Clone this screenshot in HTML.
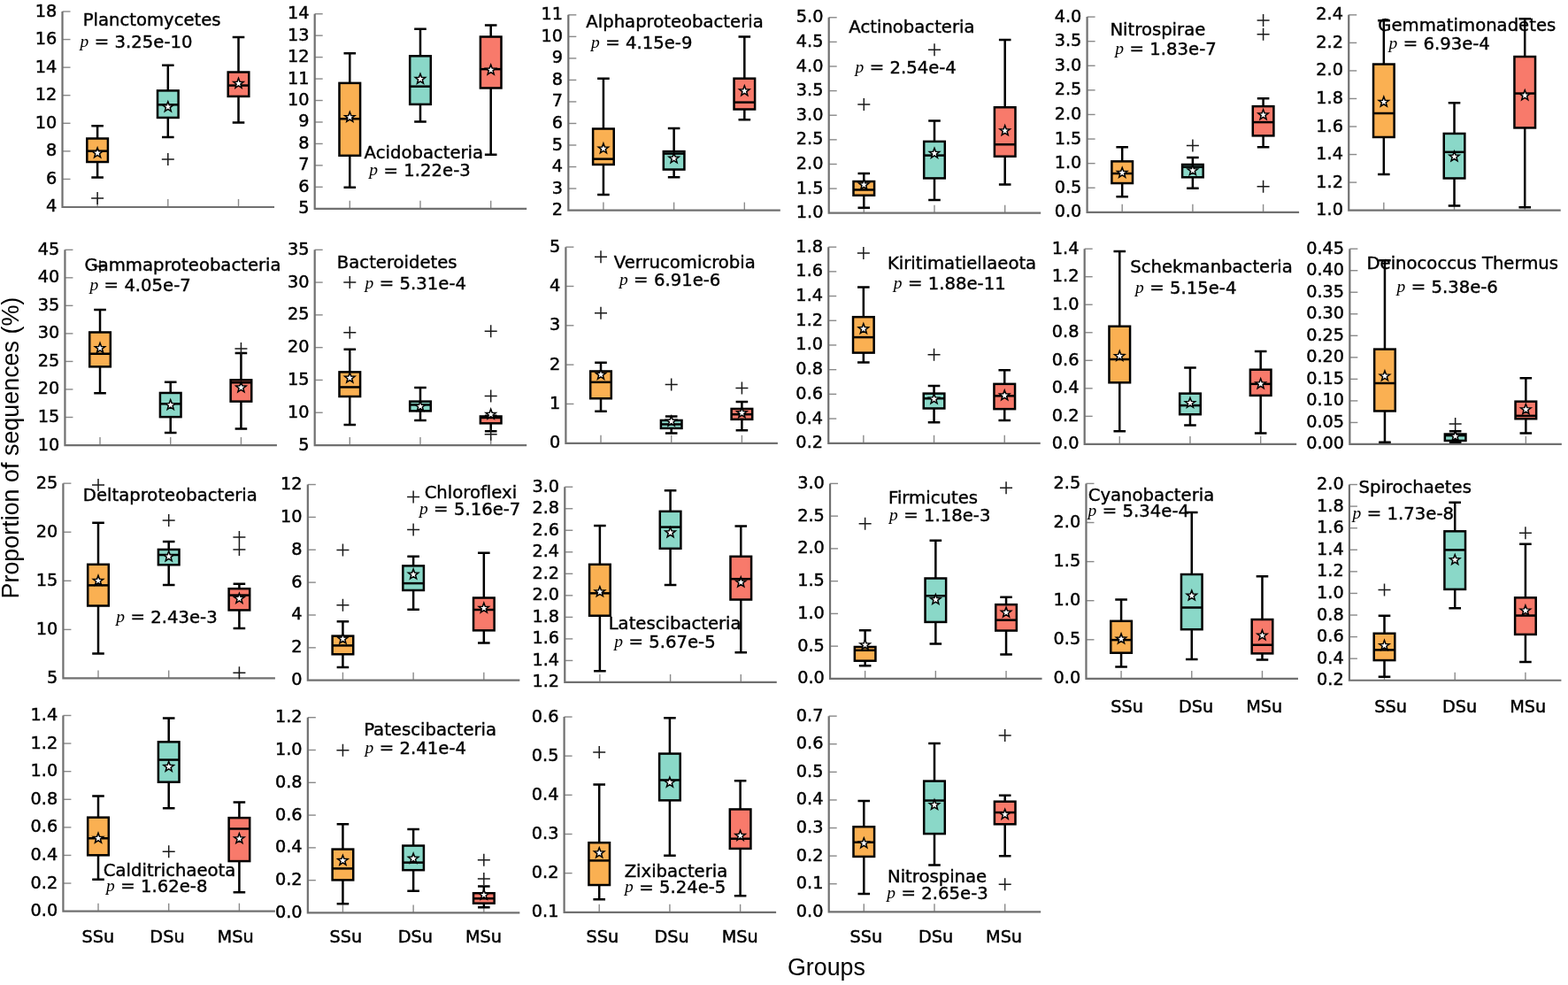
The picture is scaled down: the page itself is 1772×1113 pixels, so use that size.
<!DOCTYPE html>
<html><head><meta charset="utf-8"><title>Boxplots</title><style>
html,body{margin:0;padding:0;background:#fff;}
text{font-variant-ligatures:none;font-kerning:normal;}
svg{display:block;}
.sp{fill:none;stroke:#707070;stroke-width:2.2;}
.tk{stroke:#8a8a8a;stroke-width:1.4;}
.tl{font-family:"DejaVu Sans",sans-serif;font-size:19.3px;text-anchor:end;fill:#000;stroke:#000;stroke-width:0.45px;}
.xl{font-family:"DejaVu Sans",sans-serif;font-size:19.3px;fill:#000;stroke:#000;stroke-width:0.45px;}
.lb{font-family:"DejaVu Sans",sans-serif;font-size:19.65px;fill:#000;stroke:#000;stroke-width:0.4px;}
.pi{font-family:"Liberation Serif",serif;font-style:italic;font-size:19.5px;fill:#000;}
.gr{font-family:"Liberation Sans",sans-serif;font-size:26.8px;fill:#000;}
.yl{font-family:"Liberation Sans",sans-serif;font-size:26.9px;fill:#000;}
.wh{fill:none;stroke:#000;stroke-width:2.5;}
.bx{stroke:#000;stroke-width:2.5;}
.md{stroke:#000;stroke-width:2.5;}
.pl{fill:none;stroke:#1a1a1a;stroke-width:1.5;}
.st{fill:#fff;stroke:#000;stroke-width:1.5;stroke-linejoin:miter;}
</style></head>
<body><svg width="1772" height="1113" viewBox="0 0 1772 1113">
<rect width="1772" height="1113" fill="#fff"/>
<line x1="70.52" y1="13.02" x2="79.52" y2="13.02" class="tk"/>
<text x="64.32" y="18.52" class="tl">18</text>
<line x1="70.52" y1="44.59" x2="79.52" y2="44.59" class="tk"/>
<text x="64.32" y="50.09" class="tl">16</text>
<line x1="70.52" y1="76.16" x2="79.52" y2="76.16" class="tk"/>
<text x="64.32" y="81.66" class="tl">14</text>
<line x1="70.52" y1="107.72" x2="79.52" y2="107.72" class="tk"/>
<text x="64.32" y="113.22" class="tl">12</text>
<line x1="70.52" y1="139.29" x2="79.52" y2="139.29" class="tk"/>
<text x="64.32" y="144.79" class="tl">10</text>
<line x1="70.52" y1="170.85" x2="79.52" y2="170.85" class="tk"/>
<text x="64.32" y="176.35" class="tl">8</text>
<line x1="70.52" y1="202.42" x2="79.52" y2="202.42" class="tk"/>
<text x="64.32" y="207.92" class="tl">6</text>
<text x="64.32" y="239.48" class="tl">4</text>
<line x1="110.12" y1="233.98" x2="110.12" y2="224.98" class="tk"/>
<line x1="189.82" y1="233.98" x2="189.82" y2="224.98" class="tk"/>
<line x1="269.52" y1="233.98" x2="269.52" y2="224.98" class="tk"/>
<path d="M70.52,13.02V233.98H310.02" class="sp"/>
<path d="M110.12,156.51V142.14M103.32,142.14H116.92M110.12,183.01V200.53M103.32,200.53H116.92" class="wh"/>
<path d="M103.12,224.1H117.12M110.12,217.1V231.1" class="pl"/>
<rect x="98.32" y="156.51" width="23.6" height="26.5" fill="#FAB052" class="bx"/>
<line x1="98.32" y1="170.66" x2="121.92" y2="170.66" class="md"/>
<polygon points="110.12,166.91 111.61,170.87 115.83,171.05 112.52,173.68 113.65,177.76 110.12,175.43 106.6,177.76 107.73,173.68 104.42,171.05 108.64,170.87" class="st"/>
<path d="M189.82,102.4V73.65M183.02,73.65H196.62M189.82,132.94V154.94M183.02,154.94H196.62" class="wh"/>
<path d="M182.82,180.09H196.82M189.82,173.09V187.09" class="pl"/>
<rect x="178.02" y="102.4" width="23.6" height="30.54" fill="#8AD8C8" class="bx"/>
<line x1="178.02" y1="118.34" x2="201.62" y2="118.34" class="md"/>
<polygon points="189.82,114.81 191.31,118.77 195.53,118.96 192.22,121.59 193.35,125.66 189.82,123.33 186.3,125.66 187.43,121.59 184.12,118.96 188.34,118.77" class="st"/>
<path d="M269.52,81.51V41.99M262.72,41.99H276.32M269.52,108.91V138.55M262.72,138.55H276.32" class="wh"/>
<rect x="257.72" y="81.51" width="23.6" height="27.4" fill="#F87A6B" class="bx"/>
<line x1="257.72" y1="96.56" x2="281.32" y2="96.56" class="md"/>
<polygon points="269.52,88.31 271.01,92.27 275.23,92.46 271.92,95.09 273.05,99.17 269.52,96.83 266,99.17 267.13,95.09 263.82,92.46 268.04,92.27" class="st"/>
<text x="93.65" y="29.19" class="lb">Planctomycetes</text>
<text x="90.61" y="52.89" class="pi">p</text>
<text x="106.81" y="52.99" class="lb">=</text>
<text x="129.61" y="53.89" class="lb">3.25e-10</text>
<line x1="355.69" y1="15.72" x2="364.69" y2="15.72" class="tk"/>
<text x="349.49" y="21.22" class="tl">14</text>
<line x1="355.69" y1="40.17" x2="364.69" y2="40.17" class="tk"/>
<text x="349.49" y="45.67" class="tl">13</text>
<line x1="355.69" y1="64.62" x2="364.69" y2="64.62" class="tk"/>
<text x="349.49" y="70.12" class="tl">12</text>
<line x1="355.69" y1="89.07" x2="364.69" y2="89.07" class="tk"/>
<text x="349.49" y="94.57" class="tl">11</text>
<line x1="355.69" y1="113.52" x2="364.69" y2="113.52" class="tk"/>
<text x="349.49" y="119.02" class="tl">10</text>
<line x1="355.69" y1="137.98" x2="364.69" y2="137.98" class="tk"/>
<text x="349.49" y="143.48" class="tl">9</text>
<line x1="355.69" y1="162.43" x2="364.69" y2="162.43" class="tk"/>
<text x="349.49" y="167.93" class="tl">8</text>
<line x1="355.69" y1="186.88" x2="364.69" y2="186.88" class="tk"/>
<text x="349.49" y="192.38" class="tl">7</text>
<line x1="355.69" y1="211.33" x2="364.69" y2="211.33" class="tk"/>
<text x="349.49" y="216.83" class="tl">6</text>
<text x="349.49" y="241.28" class="tl">5</text>
<line x1="395.29" y1="235.78" x2="395.29" y2="226.78" class="tk"/>
<line x1="474.99" y1="235.78" x2="474.99" y2="226.78" class="tk"/>
<line x1="554.69" y1="235.78" x2="554.69" y2="226.78" class="tk"/>
<path d="M355.69,15.72V235.78H595.19" class="sp"/>
<path d="M395.29,93.86V60.18M388.49,60.18H402.09M395.29,175.82V211.75M388.49,211.75H402.09" class="wh"/>
<rect x="383.49" y="93.86" width="23.6" height="81.96" fill="#FAB052" class="bx"/>
<line x1="383.49" y1="134.28" x2="407.09" y2="134.28" class="md"/>
<polygon points="395.29,126.49 396.77,130.45 401,130.63 397.69,133.26 398.82,137.34 395.29,135.01 391.76,137.34 392.89,133.26 389.58,130.63 393.81,130.45" class="st"/>
<path d="M474.99,63.32V32.78M468.19,32.78H481.79M474.99,117.89V137.43M468.19,137.43H481.79" class="wh"/>
<rect x="463.19" y="63.32" width="23.6" height="54.57" fill="#8AD8C8" class="bx"/>
<line x1="463.19" y1="97.68" x2="486.79" y2="97.68" class="md"/>
<polygon points="474.99,83.37 476.47,87.33 480.7,87.52 477.39,90.15 478.52,94.23 474.99,91.89 471.46,94.23 472.59,90.15 469.28,87.52 473.51,87.33" class="st"/>
<path d="M554.69,41.54V28.52M547.89,28.52H561.49M554.69,99.48V174.7M547.89,174.7H561.49" class="wh"/>
<rect x="542.89" y="41.54" width="23.6" height="57.93" fill="#F87A6B" class="bx"/>
<line x1="542.89" y1="78.14" x2="566.49" y2="78.14" class="md"/>
<polygon points="554.69,73.04 556.17,77 560.4,77.19 557.09,79.82 558.22,83.9 554.69,81.56 551.16,83.9 552.29,79.82 548.98,77.19 553.21,77" class="st"/>
<text x="411.6" y="178.52" class="lb">Acidobacteria</text>
<text x="417.32" y="198.4" class="pi">p</text>
<text x="433.52" y="198.5" class="lb">=</text>
<text x="456.32" y="199.4" class="lb">1.22e-3</text>
<line x1="642.32" y1="16.84" x2="651.32" y2="16.84" class="tk"/>
<text x="636.12" y="22.34" class="tl">11</text>
<line x1="642.32" y1="41.37" x2="651.32" y2="41.37" class="tk"/>
<text x="636.12" y="46.87" class="tl">10</text>
<line x1="642.32" y1="65.89" x2="651.32" y2="65.89" class="tk"/>
<text x="636.12" y="71.39" class="tl">9</text>
<line x1="642.32" y1="90.42" x2="651.32" y2="90.42" class="tk"/>
<text x="636.12" y="95.92" class="tl">8</text>
<line x1="642.32" y1="114.95" x2="651.32" y2="114.95" class="tk"/>
<text x="636.12" y="120.45" class="tl">7</text>
<line x1="642.32" y1="139.47" x2="651.32" y2="139.47" class="tk"/>
<text x="636.12" y="144.97" class="tl">6</text>
<line x1="642.32" y1="164" x2="651.32" y2="164" class="tk"/>
<text x="636.12" y="169.5" class="tl">5</text>
<line x1="642.32" y1="188.52" x2="651.32" y2="188.52" class="tk"/>
<text x="636.12" y="194.02" class="tl">4</text>
<line x1="642.32" y1="213.05" x2="651.32" y2="213.05" class="tk"/>
<text x="636.12" y="218.55" class="tl">3</text>
<text x="636.12" y="243.08" class="tl">2</text>
<line x1="681.92" y1="237.58" x2="681.92" y2="228.58" class="tk"/>
<line x1="761.62" y1="237.58" x2="761.62" y2="228.58" class="tk"/>
<line x1="841.32" y1="237.58" x2="841.32" y2="228.58" class="tk"/>
<path d="M642.32,16.84V237.58H881.82" class="sp"/>
<path d="M681.92,145.51V88.7M675.12,88.7H688.72M681.92,185.93V220.06M675.12,220.06H688.72" class="wh"/>
<rect x="670.12" y="145.51" width="23.6" height="40.42" fill="#FAB052" class="bx"/>
<line x1="670.12" y1="179.64" x2="693.72" y2="179.64" class="md"/>
<polygon points="681.92,161.97 683.4,165.93 687.63,166.11 684.32,168.74 685.45,172.82 681.92,170.49 678.39,172.82 679.52,168.74 676.21,166.11 680.44,165.93" class="st"/>
<path d="M761.62,171.11V145.06M754.82,145.06H768.42M761.62,191.54V200.3M754.82,200.3H768.42" class="wh"/>
<rect x="749.82" y="171.11" width="23.6" height="20.43" fill="#8AD8C8" class="bx"/>
<line x1="749.82" y1="173.58" x2="773.42" y2="173.58" class="md"/>
<polygon points="761.62,172.97 763.1,176.93 767.33,177.11 764.02,179.75 765.15,183.82 761.62,181.49 758.09,183.82 759.22,179.75 755.91,177.11 760.14,176.93" class="st"/>
<path d="M841.32,88.7V41.54M834.52,41.54H848.12M841.32,123.5V135.18M834.52,135.18H848.12" class="wh"/>
<rect x="829.52" y="88.7" width="23.6" height="34.81" fill="#F87A6B" class="bx"/>
<line x1="829.52" y1="115.64" x2="853.12" y2="115.64" class="md"/>
<polygon points="841.32,96.85 842.8,100.81 847.03,100.99 843.72,103.62 844.85,107.7 841.32,105.37 837.79,107.7 838.92,103.62 835.61,100.99 839.84,100.81" class="st"/>
<text x="662.31" y="30.99" class="lb">Alphaproteobacteria</text>
<text x="668.02" y="54.02" class="pi">p</text>
<text x="684.22" y="54.12" class="lb">=</text>
<text x="707.02" y="55.02" class="lb">4.15e-9</text>
<line x1="936.69" y1="19.76" x2="945.69" y2="19.76" class="tk"/>
<text x="930.49" y="25.26" class="tl">5.0</text>
<line x1="936.69" y1="47.38" x2="945.69" y2="47.38" class="tk"/>
<text x="930.49" y="52.88" class="tl">4.5</text>
<line x1="936.69" y1="75" x2="945.69" y2="75" class="tk"/>
<text x="930.49" y="80.5" class="tl">4.0</text>
<line x1="936.69" y1="102.62" x2="945.69" y2="102.62" class="tk"/>
<text x="930.49" y="108.12" class="tl">3.5</text>
<line x1="936.69" y1="130.24" x2="945.69" y2="130.24" class="tk"/>
<text x="930.49" y="135.74" class="tl">3.0</text>
<line x1="936.69" y1="157.86" x2="945.69" y2="157.86" class="tk"/>
<text x="930.49" y="163.36" class="tl">2.5</text>
<line x1="936.69" y1="185.48" x2="945.69" y2="185.48" class="tk"/>
<text x="930.49" y="190.98" class="tl">2.0</text>
<line x1="936.69" y1="213.1" x2="945.69" y2="213.1" class="tk"/>
<text x="930.49" y="218.6" class="tl">1.5</text>
<text x="930.49" y="246.22" class="tl">1.0</text>
<line x1="976.29" y1="240.72" x2="976.29" y2="231.72" class="tk"/>
<line x1="1055.99" y1="240.72" x2="1055.99" y2="231.72" class="tk"/>
<line x1="1135.69" y1="240.72" x2="1135.69" y2="231.72" class="tk"/>
<path d="M936.69,19.76V240.72H1176.19" class="sp"/>
<path d="M976.29,205.02V196.03M969.49,196.03H983.09M976.29,220.74V234.66M969.49,234.66H983.09" class="wh"/>
<path d="M969.29,117.89H983.29M976.29,110.89V124.89" class="pl"/>
<rect x="964.49" y="205.02" width="23.6" height="15.72" fill="#FAB052" class="bx"/>
<line x1="964.49" y1="214.45" x2="988.09" y2="214.45" class="md"/>
<polygon points="976.29,202.83 977.77,206.8 982,206.98 978.69,209.61 979.82,213.69 976.29,211.35 972.77,213.69 973.9,209.61 970.59,206.98 974.81,206.8" class="st"/>
<path d="M1055.99,159.88V136.53M1049.19,136.53H1062.79M1055.99,201.42V226.12M1049.19,226.12H1062.79" class="wh"/>
<path d="M1048.99,56.14H1062.99M1055.99,49.14V63.14" class="pl"/>
<rect x="1044.19" y="159.88" width="23.6" height="41.54" fill="#8AD8C8" class="bx"/>
<line x1="1044.19" y1="175.6" x2="1067.79" y2="175.6" class="md"/>
<polygon points="1055.99,167.35 1057.47,171.32 1061.7,171.5 1058.39,174.13 1059.52,178.21 1055.99,175.87 1052.47,178.21 1053.6,174.13 1050.29,171.5 1054.51,171.32" class="st"/>
<path d="M1135.69,121.26V44.91M1128.89,44.91H1142.49M1135.69,176.72V208.38M1128.89,208.38H1142.49" class="wh"/>
<rect x="1123.89" y="121.26" width="23.6" height="55.46" fill="#F87A6B" class="bx"/>
<line x1="1123.89" y1="163.25" x2="1147.49" y2="163.25" class="md"/>
<polygon points="1135.69,141.76 1137.17,145.72 1141.4,145.9 1138.09,148.53 1139.22,152.61 1135.69,150.28 1132.17,152.61 1133.3,148.53 1129.99,145.9 1134.21,145.72" class="st"/>
<text x="959.37" y="36.6" class="lb">Actinobacteria</text>
<text x="966.43" y="82.08" class="pi">p</text>
<text x="982.63" y="82.18" class="lb">=</text>
<text x="1005.43" y="83.08" class="lb">2.54e-4</text>
<line x1="1228.59" y1="19.09" x2="1237.59" y2="19.09" class="tk"/>
<text x="1222.39" y="24.59" class="tl">4.0</text>
<line x1="1228.59" y1="46.68" x2="1237.59" y2="46.68" class="tk"/>
<text x="1222.39" y="52.18" class="tl">3.5</text>
<line x1="1228.59" y1="74.27" x2="1237.59" y2="74.27" class="tk"/>
<text x="1222.39" y="79.77" class="tl">3.0</text>
<line x1="1228.59" y1="101.86" x2="1237.59" y2="101.86" class="tk"/>
<text x="1222.39" y="107.36" class="tl">2.5</text>
<line x1="1228.59" y1="129.45" x2="1237.59" y2="129.45" class="tk"/>
<text x="1222.39" y="134.95" class="tl">2.0</text>
<line x1="1228.59" y1="157.05" x2="1237.59" y2="157.05" class="tk"/>
<text x="1222.39" y="162.55" class="tl">1.5</text>
<line x1="1228.59" y1="184.64" x2="1237.59" y2="184.64" class="tk"/>
<text x="1222.39" y="190.14" class="tl">1.0</text>
<line x1="1228.59" y1="212.23" x2="1237.59" y2="212.23" class="tk"/>
<text x="1222.39" y="217.73" class="tl">0.5</text>
<text x="1222.39" y="245.32" class="tl">0.0</text>
<line x1="1268.19" y1="239.82" x2="1268.19" y2="230.82" class="tk"/>
<line x1="1347.89" y1="239.82" x2="1347.89" y2="230.82" class="tk"/>
<line x1="1427.59" y1="239.82" x2="1427.59" y2="230.82" class="tk"/>
<path d="M1228.59,19.09V239.82H1468.09" class="sp"/>
<path d="M1268.19,182.34V166.17M1261.39,166.17H1274.99M1268.19,207.04V222.31M1261.39,222.31H1274.99" class="wh"/>
<rect x="1256.39" y="182.34" width="23.6" height="24.7" fill="#FAB052" class="bx"/>
<line x1="1256.39" y1="196.03" x2="1279.99" y2="196.03" class="md"/>
<polygon points="1268.19,189.36 1269.67,193.32 1273.9,193.51 1270.59,196.14 1271.72,200.21 1268.19,197.88 1264.67,200.21 1265.8,196.14 1262.49,193.51 1266.71,193.32" class="st"/>
<path d="M1347.89,185.93V178.07M1341.09,178.07H1354.69M1347.89,200.3V212.65M1341.09,212.65H1354.69" class="wh"/>
<path d="M1340.89,164.6H1354.89M1347.89,157.6V171.6" class="pl"/>
<rect x="1336.09" y="185.93" width="23.6" height="14.37" fill="#8AD8C8" class="bx"/>
<line x1="1336.09" y1="188.62" x2="1359.69" y2="188.62" class="md"/>
<polygon points="1347.89,186.67 1349.37,190.63 1353.6,190.81 1350.29,193.44 1351.42,197.52 1347.89,195.19 1344.37,197.52 1345.5,193.44 1342.19,190.81 1346.41,190.63" class="st"/>
<path d="M1427.59,120.14V111.15M1420.79,111.15H1434.39M1427.59,153.37V166.17M1420.79,166.17H1434.39" class="wh"/>
<path d="M1420.59,22.9H1434.59M1427.59,15.9V29.9" class="pl"/>
<path d="M1420.59,38.85H1434.59M1427.59,31.85V45.85" class="pl"/>
<path d="M1420.59,210.63H1434.59M1427.59,203.63V217.63" class="pl"/>
<rect x="1415.79" y="120.14" width="23.6" height="33.23" fill="#F87A6B" class="bx"/>
<line x1="1415.79" y1="138.1" x2="1439.39" y2="138.1" class="md"/>
<polygon points="1427.59,123.79 1429.07,127.75 1433.3,127.94 1429.99,130.57 1431.12,134.65 1427.59,132.31 1424.07,134.65 1425.2,130.57 1421.89,127.94 1426.11,127.75" class="st"/>
<text x="1254.42" y="40.42" class="lb">Nitrospirae</text>
<text x="1260.36" y="60.75" class="pi">p</text>
<text x="1276.56" y="60.85" class="lb">=</text>
<text x="1299.36" y="61.75" class="lb">1.83e-7</text>
<line x1="1524.23" y1="16.85" x2="1533.23" y2="16.85" class="tk"/>
<text x="1518.03" y="22.35" class="tl">2.4</text>
<line x1="1524.23" y1="48.39" x2="1533.23" y2="48.39" class="tk"/>
<text x="1518.03" y="53.89" class="tl">2.2</text>
<line x1="1524.23" y1="79.93" x2="1533.23" y2="79.93" class="tk"/>
<text x="1518.03" y="85.43" class="tl">2.0</text>
<line x1="1524.23" y1="111.47" x2="1533.23" y2="111.47" class="tk"/>
<text x="1518.03" y="116.97" class="tl">1.8</text>
<line x1="1524.23" y1="143.02" x2="1533.23" y2="143.02" class="tk"/>
<text x="1518.03" y="148.52" class="tl">1.6</text>
<line x1="1524.23" y1="174.56" x2="1533.23" y2="174.56" class="tk"/>
<text x="1518.03" y="180.06" class="tl">1.4</text>
<line x1="1524.23" y1="206.1" x2="1533.23" y2="206.1" class="tk"/>
<text x="1518.03" y="211.6" class="tl">1.2</text>
<text x="1518.03" y="243.15" class="tl">1.0</text>
<line x1="1563.83" y1="237.65" x2="1563.83" y2="228.65" class="tk"/>
<line x1="1643.53" y1="237.65" x2="1643.53" y2="228.65" class="tk"/>
<line x1="1723.23" y1="237.65" x2="1723.23" y2="228.65" class="tk"/>
<path d="M1524.23,16.85V237.65H1763.73" class="sp"/>
<path d="M1563.83,72.55V23.14M1557.03,23.14H1570.63M1563.83,154.99V196.99M1557.03,196.99H1570.63" class="wh"/>
<rect x="1552.03" y="72.55" width="23.6" height="82.43" fill="#FAB052" class="bx"/>
<line x1="1552.03" y1="128.03" x2="1575.63" y2="128.03" class="md"/>
<polygon points="1563.83,109.23 1565.31,113.19 1569.54,113.38 1566.23,116.01 1567.36,120.08 1563.83,117.75 1560.31,120.08 1561.44,116.01 1558.13,113.38 1562.35,113.19" class="st"/>
<path d="M1643.53,150.94V116.35M1636.73,116.35H1650.33M1643.53,201.48V232.48M1636.73,232.48H1650.33" class="wh"/>
<rect x="1631.73" y="150.94" width="23.6" height="50.54" fill="#8AD8C8" class="bx"/>
<line x1="1631.73" y1="171.83" x2="1655.33" y2="171.83" class="md"/>
<polygon points="1643.53,171 1645.01,174.96 1649.24,175.14 1645.93,177.78 1647.06,181.85 1643.53,179.52 1640.01,181.85 1641.14,177.78 1637.83,175.14 1642.05,174.96" class="st"/>
<path d="M1723.23,64.02V21.34M1716.43,21.34H1730.03M1723.23,144.43V234.28M1716.43,234.28H1730.03" class="wh"/>
<rect x="1711.43" y="64.02" width="23.6" height="80.41" fill="#F87A6B" class="bx"/>
<line x1="1711.43" y1="105.57" x2="1735.03" y2="105.57" class="md"/>
<polygon points="1723.23,101.82 1724.71,105.78 1728.94,105.96 1725.63,108.6 1726.76,112.67 1723.23,110.34 1719.71,112.67 1720.84,108.6 1717.53,105.96 1721.75,105.78" class="st"/>
<text x="1557.25" y="35.49" class="lb">Gemmatimonadetes</text>
<text x="1569.48" y="55.15" class="pi">p</text>
<text x="1585.68" y="55.25" class="lb">=</text>
<text x="1608.48" y="56.15" class="lb">6.93e-4</text>
<line x1="73.43" y1="282.29" x2="82.43" y2="282.29" class="tk"/>
<text x="67.23" y="287.79" class="tl">45</text>
<line x1="73.43" y1="313.82" x2="82.43" y2="313.82" class="tk"/>
<text x="67.23" y="319.32" class="tl">40</text>
<line x1="73.43" y1="345.36" x2="82.43" y2="345.36" class="tk"/>
<text x="67.23" y="350.86" class="tl">35</text>
<line x1="73.43" y1="376.89" x2="82.43" y2="376.89" class="tk"/>
<text x="67.23" y="382.39" class="tl">30</text>
<line x1="73.43" y1="408.42" x2="82.43" y2="408.42" class="tk"/>
<text x="67.23" y="413.92" class="tl">25</text>
<line x1="73.43" y1="439.96" x2="82.43" y2="439.96" class="tk"/>
<text x="67.23" y="445.46" class="tl">20</text>
<line x1="73.43" y1="471.49" x2="82.43" y2="471.49" class="tk"/>
<text x="67.23" y="476.99" class="tl">15</text>
<text x="67.23" y="508.53" class="tl">10</text>
<line x1="113.03" y1="503.03" x2="113.03" y2="494.03" class="tk"/>
<line x1="192.73" y1="503.03" x2="192.73" y2="494.03" class="tk"/>
<line x1="272.43" y1="503.03" x2="272.43" y2="494.03" class="tk"/>
<path d="M73.43,282.29V503.03H312.93" class="sp"/>
<path d="M113.03,375.48V349.88M106.23,349.88H119.83M113.03,414.33V444.19M106.23,444.19H119.83" class="wh"/>
<path d="M106.03,300.93H120.03M113.03,293.93V307.93" class="pl"/>
<rect x="101.23" y="375.48" width="23.6" height="38.85" fill="#FAB052" class="bx"/>
<line x1="101.23" y1="399.73" x2="124.83" y2="399.73" class="md"/>
<polygon points="113.03,387.44 114.51,391.41 118.74,391.59 115.43,394.22 116.56,398.3 113.03,395.96 109.5,398.3 110.63,394.22 107.32,391.59 111.55,391.41" class="st"/>
<path d="M192.73,443.97V431.84M185.93,431.84H199.53M192.73,471.14V488.88M185.93,488.88H199.53" class="wh"/>
<rect x="180.93" y="443.97" width="23.6" height="27.17" fill="#8AD8C8" class="bx"/>
<line x1="180.93" y1="456.32" x2="204.53" y2="456.32" class="md"/>
<polygon points="192.73,451.67 194.21,455.63 198.44,455.81 195.13,458.44 196.26,462.52 192.73,460.19 189.2,462.52 190.33,458.44 187.02,455.81 191.25,455.63" class="st"/>
<path d="M272.43,429.37V399.06M265.63,399.06H279.23M272.43,453.62V484.61M265.63,484.61H279.23" class="wh"/>
<path d="M265.43,394.12H279.43M272.43,387.12V401.12" class="pl"/>
<rect x="260.63" y="429.37" width="23.6" height="24.25" fill="#F87A6B" class="bx"/>
<line x1="260.63" y1="432.29" x2="284.23" y2="432.29" class="md"/>
<polygon points="272.43,431.91 273.91,435.87 278.14,436.05 274.83,438.68 275.96,442.76 272.43,440.43 268.9,442.76 270.03,438.68 266.72,436.05 270.95,435.87" class="st"/>
<text x="95.43" y="306.09" class="lb">Gammaproteobacteria</text>
<text x="101.38" y="328" class="pi">p</text>
<text x="117.58" y="328.1" class="lb">=</text>
<text x="140.38" y="329" class="lb">4.05e-7</text>
<line x1="355.69" y1="282.29" x2="364.69" y2="282.29" class="tk"/>
<text x="349.49" y="287.79" class="tl">35</text>
<line x1="355.69" y1="319.08" x2="364.69" y2="319.08" class="tk"/>
<text x="349.49" y="324.58" class="tl">30</text>
<line x1="355.69" y1="355.87" x2="364.69" y2="355.87" class="tk"/>
<text x="349.49" y="361.37" class="tl">25</text>
<line x1="355.69" y1="392.66" x2="364.69" y2="392.66" class="tk"/>
<text x="349.49" y="398.16" class="tl">20</text>
<line x1="355.69" y1="429.45" x2="364.69" y2="429.45" class="tk"/>
<text x="349.49" y="434.95" class="tl">15</text>
<line x1="355.69" y1="466.24" x2="364.69" y2="466.24" class="tk"/>
<text x="349.49" y="471.74" class="tl">10</text>
<text x="349.49" y="508.53" class="tl">5</text>
<line x1="395.29" y1="503.03" x2="395.29" y2="494.03" class="tk"/>
<line x1="474.99" y1="503.03" x2="474.99" y2="494.03" class="tk"/>
<line x1="554.69" y1="503.03" x2="554.69" y2="494.03" class="tk"/>
<path d="M355.69,282.29V503.03H595.19" class="sp"/>
<path d="M395.29,420.39V394.79M388.49,394.79H402.09M395.29,448.01V479.9M388.49,479.9H402.09" class="wh"/>
<path d="M388.29,318.89H402.29M395.29,311.89V325.89" class="pl"/>
<path d="M388.29,375.7H402.29M395.29,368.7V382.7" class="pl"/>
<rect x="383.49" y="420.39" width="23.6" height="27.62" fill="#FAB052" class="bx"/>
<line x1="383.49" y1="437.46" x2="407.09" y2="437.46" class="md"/>
<polygon points="395.29,421.13 396.77,425.09 401,425.27 397.69,427.91 398.82,431.98 395.29,429.65 391.76,431.98 392.89,427.91 389.58,425.27 393.81,425.09" class="st"/>
<path d="M474.99,453.62V437.91M468.19,437.91H481.79M474.99,464.4V474.96M468.19,474.96H481.79" class="wh"/>
<rect x="463.19" y="453.62" width="23.6" height="10.78" fill="#8AD8C8" class="bx"/>
<line x1="463.19" y1="457.44" x2="486.79" y2="457.44" class="md"/>
<polygon points="474.99,453.24 476.47,457.2 480.7,457.38 477.39,460.02 478.52,464.09 474.99,461.76 471.46,464.09 472.59,460.02 469.28,457.38 473.51,457.2" class="st"/>
<path d="M554.69,470.47V469.79M547.89,469.79H561.49M554.69,478.32V487.31M547.89,487.31H561.49" class="wh"/>
<path d="M547.69,374.36H561.69M554.69,367.36V381.36" class="pl"/>
<path d="M547.69,447.56H561.69M554.69,440.56V454.56" class="pl"/>
<path d="M547.69,490.68H561.69M554.69,483.68V497.68" class="pl"/>
<rect x="542.89" y="470.47" width="23.6" height="7.86" fill="#F87A6B" class="bx"/>
<line x1="542.89" y1="472.04" x2="566.49" y2="472.04" class="md"/>
<polygon points="554.69,462.22 556.17,466.18 560.4,466.37 557.09,469 558.22,473.07 554.69,470.74 551.16,473.07 552.29,469 548.98,466.37 553.21,466.18" class="st"/>
<text x="380.84" y="303.17" class="lb">Bacteroidetes</text>
<text x="412.6" y="325.75" class="pi">p</text>
<text x="428.8" y="325.85" class="lb">=</text>
<text x="451.6" y="326.75" class="lb">5.31e-4</text>
<line x1="639.4" y1="279.15" x2="648.4" y2="279.15" class="tk"/>
<text x="633.2" y="284.65" class="tl">5</text>
<line x1="639.4" y1="323.47" x2="648.4" y2="323.47" class="tk"/>
<text x="633.2" y="328.97" class="tl">4</text>
<line x1="639.4" y1="367.8" x2="648.4" y2="367.8" class="tk"/>
<text x="633.2" y="373.3" class="tl">3</text>
<line x1="639.4" y1="412.13" x2="648.4" y2="412.13" class="tk"/>
<text x="633.2" y="417.63" class="tl">2</text>
<line x1="639.4" y1="456.45" x2="648.4" y2="456.45" class="tk"/>
<text x="633.2" y="461.95" class="tl">1</text>
<text x="633.2" y="506.28" class="tl">0</text>
<line x1="679" y1="500.78" x2="679" y2="491.78" class="tk"/>
<line x1="758.7" y1="500.78" x2="758.7" y2="491.78" class="tk"/>
<line x1="838.4" y1="500.78" x2="838.4" y2="491.78" class="tk"/>
<path d="M639.4,279.15V500.78H878.9" class="sp"/>
<path d="M679,419.49V409.84M672.2,409.84H685.8M679,450.26V464.85M672.2,464.85H685.8" class="wh"/>
<path d="M672,290.15H686M679,283.15V297.15" class="pl"/>
<path d="M672,353.7H686M679,346.7V360.7" class="pl"/>
<rect x="667.2" y="419.49" width="23.6" height="30.76" fill="#FAB052" class="bx"/>
<line x1="667.2" y1="431.84" x2="690.8" y2="431.84" class="md"/>
<polygon points="679,417.31 680.48,421.27 684.71,421.46 681.4,424.09 682.53,428.16 679,425.83 675.47,428.16 676.6,424.09 673.3,421.46 677.52,421.27" class="st"/>
<path d="M758.7,474.96V470.47M751.9,470.47H765.5M758.7,483.94V489.55M751.9,489.55H765.5" class="wh"/>
<path d="M751.7,434.54H765.7M758.7,427.54V441.54" class="pl"/>
<rect x="746.9" y="474.96" width="23.6" height="8.98" fill="#8AD8C8" class="bx"/>
<line x1="746.9" y1="479.45" x2="770.5" y2="479.45" class="md"/>
<polygon points="758.7,470.08 760.18,474.04 764.41,474.23 761.1,476.86 762.23,480.93 758.7,478.6 755.17,480.93 756.3,476.86 753,474.23 757.22,474.04" class="st"/>
<path d="M838.4,461.93V454.07M831.6,454.07H845.2M838.4,473.83V486.18M831.6,486.18H845.2" class="wh"/>
<path d="M831.4,438.58H845.4M838.4,431.58V445.58" class="pl"/>
<rect x="826.6" y="461.93" width="23.6" height="11.9" fill="#F87A6B" class="bx"/>
<line x1="826.6" y1="468.22" x2="850.2" y2="468.22" class="md"/>
<polygon points="838.4,460.65 839.88,464.61 844.11,464.79 840.8,467.43 841.93,471.5 838.4,469.17 834.87,471.5 836,467.43 832.7,464.79 836.92,464.61" class="st"/>
<text x="693.74" y="302.72" class="lb">Verrucomicrobia</text>
<text x="699.91" y="322.38" class="pi">p</text>
<text x="716.11" y="322.48" class="lb">=</text>
<text x="738.91" y="323.38" class="lb">6.91e-6</text>
<line x1="936.24" y1="279.15" x2="945.24" y2="279.15" class="tk"/>
<text x="930.04" y="284.65" class="tl">1.8</text>
<line x1="936.24" y1="306.85" x2="945.24" y2="306.85" class="tk"/>
<text x="930.04" y="312.35" class="tl">1.6</text>
<line x1="936.24" y1="334.56" x2="945.24" y2="334.56" class="tk"/>
<text x="930.04" y="340.06" class="tl">1.4</text>
<line x1="936.24" y1="362.26" x2="945.24" y2="362.26" class="tk"/>
<text x="930.04" y="367.76" class="tl">1.2</text>
<line x1="936.24" y1="389.96" x2="945.24" y2="389.96" class="tk"/>
<text x="930.04" y="395.46" class="tl">1.0</text>
<line x1="936.24" y1="417.67" x2="945.24" y2="417.67" class="tk"/>
<text x="930.04" y="423.17" class="tl">0.8</text>
<line x1="936.24" y1="445.37" x2="945.24" y2="445.37" class="tk"/>
<text x="930.04" y="450.87" class="tl">0.6</text>
<line x1="936.24" y1="473.08" x2="945.24" y2="473.08" class="tk"/>
<text x="930.04" y="478.58" class="tl">0.4</text>
<text x="930.04" y="506.28" class="tl">0.2</text>
<line x1="975.84" y1="500.78" x2="975.84" y2="491.78" class="tk"/>
<line x1="1055.54" y1="500.78" x2="1055.54" y2="491.78" class="tk"/>
<line x1="1135.24" y1="500.78" x2="1135.24" y2="491.78" class="tk"/>
<path d="M936.24,279.15V500.78H1175.74" class="sp"/>
<path d="M975.84,358.19V324.51M969.04,324.51H982.64M975.84,398.61V409.39M969.04,409.39H982.64" class="wh"/>
<path d="M968.84,285.88H982.84M975.84,278.88V292.88" class="pl"/>
<rect x="964.04" y="358.19" width="23.6" height="40.42" fill="#FAB052" class="bx"/>
<line x1="964.04" y1="381.09" x2="987.64" y2="381.09" class="md"/>
<polygon points="975.84,365.66 977.32,369.62 981.55,369.81 978.24,372.44 979.37,376.52 975.84,374.18 972.32,376.52 973.45,372.44 970.14,369.81 974.36,369.62" class="st"/>
<path d="M1055.54,444.64V436.11M1048.74,436.11H1062.34M1055.54,461.48V477.2M1048.74,477.2H1062.34" class="wh"/>
<path d="M1048.54,400.85H1062.54M1055.54,393.85V407.85" class="pl"/>
<rect x="1043.74" y="444.64" width="23.6" height="16.84" fill="#8AD8C8" class="bx"/>
<line x1="1043.74" y1="450.26" x2="1067.34" y2="450.26" class="md"/>
<polygon points="1055.54,444.93 1057.02,448.89 1061.25,449.08 1057.94,451.71 1059.07,455.78 1055.54,453.45 1052.02,455.78 1053.15,451.71 1049.84,449.08 1054.06,448.89" class="st"/>
<path d="M1135.24,433.86V418.37M1128.44,418.37H1142.04M1135.24,462.16V474.96M1128.44,474.96H1142.04" class="wh"/>
<rect x="1123.44" y="433.86" width="23.6" height="28.29" fill="#F87A6B" class="bx"/>
<line x1="1123.44" y1="447.34" x2="1147.04" y2="447.34" class="md"/>
<polygon points="1135.24,440.89 1136.72,444.85 1140.95,445.03 1137.64,447.67 1138.77,451.74 1135.24,449.41 1131.72,451.74 1132.85,447.67 1129.54,445.03 1133.76,444.85" class="st"/>
<text x="1002.94" y="304.3" class="lb">Kiritimatiellaeota</text>
<text x="1009.77" y="325.75" class="pi">p</text>
<text x="1025.97" y="325.85" class="lb">=</text>
<text x="1048.77" y="326.75" class="lb">1.88e-11</text>
<line x1="1225.67" y1="281.17" x2="1234.67" y2="281.17" class="tk"/>
<text x="1219.47" y="286.67" class="tl">1.4</text>
<line x1="1225.67" y1="312.7" x2="1234.67" y2="312.7" class="tk"/>
<text x="1219.47" y="318.2" class="tl">1.2</text>
<line x1="1225.67" y1="344.23" x2="1234.67" y2="344.23" class="tk"/>
<text x="1219.47" y="349.73" class="tl">1.0</text>
<line x1="1225.67" y1="375.77" x2="1234.67" y2="375.77" class="tk"/>
<text x="1219.47" y="381.27" class="tl">0.8</text>
<line x1="1225.67" y1="407.3" x2="1234.67" y2="407.3" class="tk"/>
<text x="1219.47" y="412.8" class="tl">0.6</text>
<line x1="1225.67" y1="438.84" x2="1234.67" y2="438.84" class="tk"/>
<text x="1219.47" y="444.34" class="tl">0.4</text>
<line x1="1225.67" y1="470.37" x2="1234.67" y2="470.37" class="tk"/>
<text x="1219.47" y="475.87" class="tl">0.2</text>
<text x="1219.47" y="507.4" class="tl">0.0</text>
<line x1="1265.27" y1="501.9" x2="1265.27" y2="492.9" class="tk"/>
<line x1="1344.97" y1="501.9" x2="1344.97" y2="492.9" class="tk"/>
<line x1="1424.67" y1="501.9" x2="1424.67" y2="492.9" class="tk"/>
<path d="M1225.67,281.17V501.9H1465.17" class="sp"/>
<path d="M1265.27,368.74V284.09M1258.47,284.09H1272.07M1265.27,432.29V487.31M1258.47,487.31H1272.07" class="wh"/>
<rect x="1253.47" y="368.74" width="23.6" height="63.55" fill="#FAB052" class="bx"/>
<line x1="1253.47" y1="406.02" x2="1277.07" y2="406.02" class="md"/>
<polygon points="1265.27,396.43 1266.76,400.39 1270.98,400.57 1267.67,403.2 1268.8,407.28 1265.27,404.95 1261.75,407.28 1262.88,403.2 1259.57,400.57 1263.79,400.39" class="st"/>
<path d="M1344.97,444.64V415.45M1338.17,415.45H1351.77M1344.97,468.22V480.57M1338.17,480.57H1351.77" class="wh"/>
<rect x="1333.17" y="444.64" width="23.6" height="23.58" fill="#8AD8C8" class="bx"/>
<line x1="1333.17" y1="458.12" x2="1356.77" y2="458.12" class="md"/>
<polygon points="1344.97,449.42 1346.46,453.38 1350.68,453.57 1347.37,456.2 1348.5,460.27 1344.97,457.94 1341.45,460.27 1342.58,456.2 1339.27,453.57 1343.49,453.38" class="st"/>
<path d="M1424.67,417.7V397.04M1417.87,397.04H1431.47M1424.67,446.89V489.55M1417.87,489.55H1431.47" class="wh"/>
<rect x="1412.87" y="417.7" width="23.6" height="29.19" fill="#F87A6B" class="bx"/>
<line x1="1412.87" y1="433.86" x2="1436.47" y2="433.86" class="md"/>
<polygon points="1424.67,427.86 1426.16,431.82 1430.38,432.01 1427.07,434.64 1428.2,438.72 1424.67,436.38 1421.15,438.72 1422.28,434.64 1418.97,432.01 1423.19,431.82" class="st"/>
<text x="1277.32" y="307.66" class="lb">Schekmanbacteria</text>
<text x="1283.04" y="330.69" class="pi">p</text>
<text x="1299.24" y="330.79" class="lb">=</text>
<text x="1322.04" y="331.69" class="lb">5.15e-4</text>
<line x1="1525.35" y1="281.17" x2="1534.35" y2="281.17" class="tk"/>
<text x="1519.15" y="286.67" class="tl">0.45</text>
<line x1="1525.35" y1="305.71" x2="1534.35" y2="305.71" class="tk"/>
<text x="1519.15" y="311.21" class="tl">0.40</text>
<line x1="1525.35" y1="330.24" x2="1534.35" y2="330.24" class="tk"/>
<text x="1519.15" y="335.74" class="tl">0.35</text>
<line x1="1525.35" y1="354.77" x2="1534.35" y2="354.77" class="tk"/>
<text x="1519.15" y="360.27" class="tl">0.30</text>
<line x1="1525.35" y1="379.31" x2="1534.35" y2="379.31" class="tk"/>
<text x="1519.15" y="384.81" class="tl">0.25</text>
<line x1="1525.35" y1="403.84" x2="1534.35" y2="403.84" class="tk"/>
<text x="1519.15" y="409.34" class="tl">0.20</text>
<line x1="1525.35" y1="428.37" x2="1534.35" y2="428.37" class="tk"/>
<text x="1519.15" y="433.87" class="tl">0.15</text>
<line x1="1525.35" y1="452.91" x2="1534.35" y2="452.91" class="tk"/>
<text x="1519.15" y="458.41" class="tl">0.10</text>
<line x1="1525.35" y1="477.44" x2="1534.35" y2="477.44" class="tk"/>
<text x="1519.15" y="482.94" class="tl">0.05</text>
<text x="1519.15" y="507.47" class="tl">0.00</text>
<line x1="1564.95" y1="501.97" x2="1564.95" y2="492.97" class="tk"/>
<line x1="1644.65" y1="501.97" x2="1644.65" y2="492.97" class="tk"/>
<line x1="1724.35" y1="501.97" x2="1724.35" y2="492.97" class="tk"/>
<path d="M1525.35,281.17V501.97H1764.85" class="sp"/>
<path d="M1564.95,394.6V294.2M1558.15,294.2H1571.75M1564.95,464.46V499.73M1558.15,499.73H1571.75" class="wh"/>
<rect x="1553.15" y="394.6" width="23.6" height="69.86" fill="#FAB052" class="bx"/>
<line x1="1553.15" y1="433.01" x2="1576.75" y2="433.01" class="md"/>
<polygon points="1564.95,418.93 1566.44,422.89 1570.66,423.07 1567.35,425.71 1568.48,429.78 1564.95,427.45 1561.43,429.78 1562.56,425.71 1559.25,423.07 1563.47,422.89" class="st"/>
<path d="M1644.65,490.52V487.37M1637.85,487.37H1651.45M1644.65,497.93V499.73M1637.85,499.73H1651.45" class="wh"/>
<path d="M1637.65,479.06H1651.65M1644.65,472.06V486.06" class="pl"/>
<rect x="1632.85" y="490.52" width="23.6" height="7.41" fill="#8AD8C8" class="bx"/>
<line x1="1632.85" y1="492.09" x2="1656.45" y2="492.09" class="md"/>
<polygon points="1644.65,486.99 1646.14,490.95 1650.36,491.13 1647.05,493.77 1648.18,497.84 1644.65,495.51 1641.13,497.84 1642.26,493.77 1638.95,491.13 1643.17,490.95" class="st"/>
<path d="M1724.35,453.68V427.17M1717.55,427.17H1731.15M1724.35,473.22V489.62M1717.55,489.62H1731.15" class="wh"/>
<rect x="1712.55" y="453.68" width="23.6" height="19.54" fill="#F87A6B" class="bx"/>
<line x1="1712.55" y1="469.85" x2="1736.15" y2="469.85" class="md"/>
<polygon points="1724.35,456.66 1725.84,460.63 1730.06,460.81 1726.75,463.44 1727.88,467.52 1724.35,465.18 1720.83,467.52 1721.96,463.44 1718.65,460.81 1722.87,460.63" class="st"/>
<text x="1544.45" y="303.63" class="lb">Deinococcus Thermus</text>
<text x="1578.47" y="330.26" class="pi">p</text>
<text x="1594.67" y="330.36" class="lb">=</text>
<text x="1617.47" y="331.26" class="lb">5.38e-6</text>
<line x1="71.41" y1="546.17" x2="80.41" y2="546.17" class="tk"/>
<text x="65.21" y="551.67" class="tl">25</text>
<line x1="71.41" y1="601.24" x2="80.41" y2="601.24" class="tk"/>
<text x="65.21" y="606.74" class="tl">20</text>
<line x1="71.41" y1="656.31" x2="80.41" y2="656.31" class="tk"/>
<text x="65.21" y="661.81" class="tl">15</text>
<line x1="71.41" y1="711.38" x2="80.41" y2="711.38" class="tk"/>
<text x="65.21" y="716.88" class="tl">10</text>
<text x="65.21" y="771.95" class="tl">5</text>
<line x1="111.01" y1="766.45" x2="111.01" y2="757.45" class="tk"/>
<line x1="190.71" y1="766.45" x2="190.71" y2="757.45" class="tk"/>
<line x1="270.41" y1="766.45" x2="270.41" y2="757.45" class="tk"/>
<path d="M71.41,546.17V766.45H310.91" class="sp"/>
<path d="M111.01,637.79V590.63M104.21,590.63H117.81M111.01,684.49V738.38M104.21,738.38H117.81" class="wh"/>
<path d="M104.01,547.96H118.01M111.01,540.96V554.96" class="pl"/>
<rect x="99.21" y="637.79" width="23.6" height="46.71" fill="#FAB052" class="bx"/>
<line x1="99.21" y1="661.36" x2="122.81" y2="661.36" class="md"/>
<polygon points="111.01,650.2 112.49,654.16 116.71,654.34 113.4,656.98 114.53,661.05 111.01,658.72 107.48,661.05 108.61,656.98 105.3,654.34 109.53,654.16" class="st"/>
<path d="M190.71,620.94V611.96M183.91,611.96H197.51M190.71,638.23V660.91M183.91,660.91H197.51" class="wh"/>
<path d="M183.71,587.93H197.71M190.71,580.93V594.93" class="pl"/>
<rect x="178.91" y="620.94" width="23.6" height="17.29" fill="#8AD8C8" class="bx"/>
<line x1="178.91" y1="627.01" x2="202.51" y2="627.01" class="md"/>
<polygon points="190.71,622.8 192.19,626.76 196.41,626.95 193.1,629.58 194.23,633.66 190.71,631.32 187.18,633.66 188.31,629.58 185,626.95 189.23,626.76" class="st"/>
<path d="M270.41,665.18V659.79M263.61,659.79H277.21M270.41,689.43V710.09M263.61,710.09H277.21" class="wh"/>
<path d="M263.41,607.02H277.41M270.41,600.02V614.02" class="pl"/>
<path d="M263.41,620.94H277.41M270.41,613.94V627.94" class="pl"/>
<path d="M263.41,760.17H277.41M270.41,753.17V767.17" class="pl"/>
<rect x="258.61" y="665.18" width="23.6" height="24.25" fill="#F87A6B" class="bx"/>
<line x1="258.61" y1="672.59" x2="282.21" y2="672.59" class="md"/>
<polygon points="270.41,670.41 271.89,674.37 276.11,674.55 272.8,677.19 273.93,681.26 270.41,678.93 266.88,681.26 268.01,677.19 264.7,674.55 268.93,674.37" class="st"/>
<text x="93.86" y="565.93" class="lb">Deltaproteobacteria</text>
<text x="131.24" y="703.03" class="pi">p</text>
<text x="147.44" y="703.13" class="lb">=</text>
<text x="170.24" y="704.03" class="lb">2.43e-3</text>
<line x1="347.83" y1="547.52" x2="356.83" y2="547.52" class="tk"/>
<text x="341.63" y="553.02" class="tl">12</text>
<line x1="347.83" y1="584.38" x2="356.83" y2="584.38" class="tk"/>
<text x="341.63" y="589.88" class="tl">10</text>
<line x1="347.83" y1="621.24" x2="356.83" y2="621.24" class="tk"/>
<text x="341.63" y="626.74" class="tl">8</text>
<line x1="347.83" y1="658.11" x2="356.83" y2="658.11" class="tk"/>
<text x="341.63" y="663.61" class="tl">6</text>
<line x1="347.83" y1="694.97" x2="356.83" y2="694.97" class="tk"/>
<text x="341.63" y="700.47" class="tl">4</text>
<line x1="347.83" y1="731.84" x2="356.83" y2="731.84" class="tk"/>
<text x="341.63" y="737.34" class="tl">2</text>
<text x="341.63" y="774.2" class="tl">0</text>
<line x1="387.43" y1="768.7" x2="387.43" y2="759.7" class="tk"/>
<line x1="467.13" y1="768.7" x2="467.13" y2="759.7" class="tk"/>
<line x1="546.83" y1="768.7" x2="546.83" y2="759.7" class="tk"/>
<path d="M347.83,547.52V768.7H587.33" class="sp"/>
<path d="M387.43,718.62V702.23M380.63,702.23H394.23M387.43,739.28V753.88M380.63,753.88H394.23" class="wh"/>
<path d="M380.43,621.62H394.43M387.43,614.62V628.62" class="pl"/>
<path d="M380.43,683.82H394.43M387.43,676.82V690.82" class="pl"/>
<rect x="375.63" y="718.62" width="23.6" height="20.66" fill="#FAB052" class="bx"/>
<line x1="375.63" y1="729.4" x2="399.23" y2="729.4" class="md"/>
<polygon points="387.43,715.99 388.91,719.95 393.14,720.14 389.83,722.77 390.96,726.85 387.43,724.51 383.9,726.85 385.03,722.77 381.72,720.14 385.95,719.95" class="st"/>
<path d="M467.13,639.36V628.8M460.33,628.8H473.93M467.13,666.98V688.76M460.33,688.76H473.93" class="wh"/>
<path d="M460.13,561.44H474.13M467.13,554.44V568.44" class="pl"/>
<path d="M460.13,598.49H474.13M467.13,591.49V605.49" class="pl"/>
<rect x="455.33" y="639.36" width="23.6" height="27.62" fill="#8AD8C8" class="bx"/>
<line x1="455.33" y1="659.12" x2="478.93" y2="659.12" class="md"/>
<polygon points="467.13,643.01 468.61,646.97 472.84,647.16 469.53,649.79 470.66,653.87 467.13,651.53 463.6,653.87 464.73,649.79 461.42,647.16 465.65,646.97" class="st"/>
<path d="M546.83,675.51V624.76M540.03,624.76H553.63M546.83,712.34V726.48M540.03,726.48H553.63" class="wh"/>
<rect x="535.03" y="675.51" width="23.6" height="36.83" fill="#F87A6B" class="bx"/>
<line x1="535.03" y1="688.98" x2="558.63" y2="688.98" class="md"/>
<polygon points="546.83,681.19 548.31,685.15 552.54,685.33 549.23,687.97 550.36,692.04 546.83,689.71 543.3,692.04 544.43,687.97 541.12,685.33 545.35,685.15" class="st"/>
<text x="479.64" y="563.01" class="lb">Chloroflexi</text>
<text x="473.91" y="581.1" class="pi">p</text>
<text x="490.11" y="581.2" class="lb">=</text>
<text x="512.91" y="582.1" class="lb">5.16e-7</text>
<line x1="638.28" y1="550.21" x2="647.28" y2="550.21" class="tk"/>
<text x="632.08" y="555.71" class="tl">3.0</text>
<line x1="638.28" y1="574.74" x2="647.28" y2="574.74" class="tk"/>
<text x="632.08" y="580.24" class="tl">2.8</text>
<line x1="638.28" y1="599.26" x2="647.28" y2="599.26" class="tk"/>
<text x="632.08" y="604.76" class="tl">2.6</text>
<line x1="638.28" y1="623.79" x2="647.28" y2="623.79" class="tk"/>
<text x="632.08" y="629.29" class="tl">2.4</text>
<line x1="638.28" y1="648.31" x2="647.28" y2="648.31" class="tk"/>
<text x="632.08" y="653.81" class="tl">2.2</text>
<line x1="638.28" y1="672.84" x2="647.28" y2="672.84" class="tk"/>
<text x="632.08" y="678.34" class="tl">2.0</text>
<line x1="638.28" y1="697.37" x2="647.28" y2="697.37" class="tk"/>
<text x="632.08" y="702.87" class="tl">1.8</text>
<line x1="638.28" y1="721.89" x2="647.28" y2="721.89" class="tk"/>
<text x="632.08" y="727.39" class="tl">1.6</text>
<line x1="638.28" y1="746.42" x2="647.28" y2="746.42" class="tk"/>
<text x="632.08" y="751.92" class="tl">1.4</text>
<text x="632.08" y="776.44" class="tl">1.2</text>
<line x1="677.88" y1="770.94" x2="677.88" y2="761.94" class="tk"/>
<line x1="757.58" y1="770.94" x2="757.58" y2="761.94" class="tk"/>
<line x1="837.28" y1="770.94" x2="837.28" y2="761.94" class="tk"/>
<path d="M638.28,550.21V770.94H877.78" class="sp"/>
<path d="M677.88,637.79V594M671.08,594H684.68M677.88,695.72V758.37M671.08,758.37H684.68" class="wh"/>
<rect x="666.08" y="637.79" width="23.6" height="57.93" fill="#FAB052" class="bx"/>
<line x1="666.08" y1="670.35" x2="689.68" y2="670.35" class="md"/>
<polygon points="677.88,662.77 679.36,666.73 683.59,666.92 680.28,669.55 681.41,673.63 677.88,671.29 674.35,673.63 675.48,669.55 672.17,666.92 676.4,666.73" class="st"/>
<path d="M757.58,577.83V554.25M750.78,554.25H764.38M757.58,619.82V660.91M750.78,660.91H764.38" class="wh"/>
<rect x="745.78" y="577.83" width="23.6" height="41.99" fill="#8AD8C8" class="bx"/>
<line x1="745.78" y1="595.57" x2="769.38" y2="595.57" class="md"/>
<polygon points="757.58,595.86 759.06,599.82 763.29,600 759.98,602.64 761.11,606.71 757.58,604.38 754.05,606.71 755.18,602.64 751.87,600 756.1,599.82" class="st"/>
<path d="M837.28,628.8V594.45M830.48,594.45H844.08M837.28,677.53V737.26M830.48,737.26H844.08" class="wh"/>
<rect x="825.48" y="628.8" width="23.6" height="48.73" fill="#F87A6B" class="bx"/>
<line x1="825.48" y1="654.18" x2="849.08" y2="654.18" class="md"/>
<polygon points="837.28,651.99 838.76,655.96 842.99,656.14 839.68,658.77 840.81,662.85 837.28,660.51 833.75,662.85 834.88,658.77 831.57,656.14 835.8,655.96" class="st"/>
<text x="687.68" y="711.44" class="lb">Latescibacteria</text>
<text x="694.29" y="731.1" class="pi">p</text>
<text x="710.49" y="731.2" class="lb">=</text>
<text x="733.29" y="732.1" class="lb">5.67e-5</text>
<line x1="938.04" y1="546.39" x2="947.04" y2="546.39" class="tk"/>
<text x="931.84" y="551.89" class="tl">3.0</text>
<line x1="938.04" y1="583.14" x2="947.04" y2="583.14" class="tk"/>
<text x="931.84" y="588.64" class="tl">2.5</text>
<line x1="938.04" y1="619.9" x2="947.04" y2="619.9" class="tk"/>
<text x="931.84" y="625.4" class="tl">2.0</text>
<line x1="938.04" y1="656.65" x2="947.04" y2="656.65" class="tk"/>
<text x="931.84" y="662.15" class="tl">1.5</text>
<line x1="938.04" y1="693.4" x2="947.04" y2="693.4" class="tk"/>
<text x="931.84" y="698.9" class="tl">1.0</text>
<line x1="938.04" y1="730.15" x2="947.04" y2="730.15" class="tk"/>
<text x="931.84" y="735.65" class="tl">0.5</text>
<text x="931.84" y="772.4" class="tl">0.0</text>
<line x1="977.64" y1="766.9" x2="977.64" y2="757.9" class="tk"/>
<line x1="1057.34" y1="766.9" x2="1057.34" y2="757.9" class="tk"/>
<line x1="1137.04" y1="766.9" x2="1137.04" y2="757.9" class="tk"/>
<path d="M938.04,546.39V766.9H1177.54" class="sp"/>
<path d="M977.64,730.97V712.34M970.84,712.34H984.44M977.64,746.69V752.31M970.84,752.31H984.44" class="wh"/>
<path d="M970.64,591.75H984.64M977.64,584.75V598.75" class="pl"/>
<rect x="965.84" y="730.97" width="23.6" height="15.72" fill="#FAB052" class="bx"/>
<line x1="965.84" y1="734.79" x2="989.44" y2="734.79" class="md"/>
<polygon points="977.64,722.73 979.12,726.69 983.35,726.87 980.04,729.51 981.17,733.58 977.64,731.25 974.11,733.58 975.24,729.51 971.93,726.87 976.16,726.69" class="st"/>
<path d="M1057.34,653.5V610.84M1050.54,610.84H1064.14M1057.34,702.91V727.61M1050.54,727.61H1064.14" class="wh"/>
<rect x="1045.54" y="653.5" width="23.6" height="49.4" fill="#8AD8C8" class="bx"/>
<line x1="1045.54" y1="673.26" x2="1069.14" y2="673.26" class="md"/>
<polygon points="1057.34,671.53 1058.82,675.49 1063.05,675.68 1059.74,678.31 1060.87,682.39 1057.34,680.05 1053.81,682.39 1054.94,678.31 1051.63,675.68 1055.86,675.49" class="st"/>
<path d="M1137.04,683.14V674.84M1130.24,674.84H1143.84M1137.04,712.56V739.51M1130.24,739.51H1143.84" class="wh"/>
<path d="M1130.04,551.33H1144.04M1137.04,544.33V558.33" class="pl"/>
<rect x="1125.24" y="683.14" width="23.6" height="29.42" fill="#F87A6B" class="bx"/>
<line x1="1125.24" y1="700.66" x2="1148.84" y2="700.66" class="md"/>
<polygon points="1137.04,686.13 1138.52,690.09 1142.75,690.27 1139.44,692.91 1140.57,696.98 1137.04,694.65 1133.51,696.98 1134.64,692.91 1131.33,690.27 1135.56,690.09" class="st"/>
<text x="1004.06" y="568.62" class="lb">Firmicutes</text>
<text x="1005.06" y="587.83" class="pi">p</text>
<text x="1021.26" y="587.93" class="lb">=</text>
<text x="1044.06" y="588.83" class="lb">1.18e-3</text>
<line x1="1227.47" y1="546.39" x2="1236.47" y2="546.39" class="tk"/>
<text x="1221.27" y="551.89" class="tl">2.5</text>
<line x1="1227.47" y1="590.49" x2="1236.47" y2="590.49" class="tk"/>
<text x="1221.27" y="595.99" class="tl">2.0</text>
<line x1="1227.47" y1="634.6" x2="1236.47" y2="634.6" class="tk"/>
<text x="1221.27" y="640.1" class="tl">1.5</text>
<line x1="1227.47" y1="678.7" x2="1236.47" y2="678.7" class="tk"/>
<text x="1221.27" y="684.2" class="tl">1.0</text>
<line x1="1227.47" y1="722.8" x2="1236.47" y2="722.8" class="tk"/>
<text x="1221.27" y="728.3" class="tl">0.5</text>
<text x="1221.27" y="772.4" class="tl">0.0</text>
<line x1="1267.07" y1="766.9" x2="1267.07" y2="757.9" class="tk"/>
<line x1="1346.77" y1="766.9" x2="1346.77" y2="757.9" class="tk"/>
<line x1="1426.47" y1="766.9" x2="1426.47" y2="757.9" class="tk"/>
<path d="M1227.47,546.39V766.9H1466.97" class="sp"/>
<path d="M1267.07,701.78V677.53M1260.27,677.53H1273.87M1267.07,737.71V753.43M1260.27,753.43H1273.87" class="wh"/>
<rect x="1255.27" y="701.78" width="23.6" height="35.93" fill="#FAB052" class="bx"/>
<line x1="1255.27" y1="723.12" x2="1278.87" y2="723.12" class="md"/>
<polygon points="1267.07,715.99 1268.55,719.95 1272.78,720.14 1269.47,722.77 1270.6,726.85 1267.07,724.51 1263.54,726.85 1264.67,722.77 1261.36,720.14 1265.59,719.95" class="st"/>
<path d="M1346.77,649.01V578.95M1339.97,578.95H1353.57M1346.77,711.21V744.9M1339.97,744.9H1353.57" class="wh"/>
<rect x="1334.97" y="649.01" width="23.6" height="62.2" fill="#8AD8C8" class="bx"/>
<line x1="1334.97" y1="686.51" x2="1358.57" y2="686.51" class="md"/>
<polygon points="1346.77,667.04 1348.25,671 1352.48,671.19 1349.17,673.82 1350.3,677.89 1346.77,675.56 1343.24,677.89 1344.37,673.82 1341.06,671.19 1345.29,671" class="st"/>
<path d="M1426.47,699.99V651.26M1419.67,651.26H1433.27M1426.47,738.38V745.57M1419.67,745.57H1433.27" class="wh"/>
<rect x="1414.67" y="699.99" width="23.6" height="38.4" fill="#F87A6B" class="bx"/>
<line x1="1414.67" y1="728.73" x2="1438.27" y2="728.73" class="md"/>
<polygon points="1426.47,711.95 1427.95,715.91 1432.18,716.1 1428.87,718.73 1430,722.8 1426.47,720.47 1422.94,722.8 1424.07,718.73 1420.76,716.1 1424.99,715.91" class="st"/>
<text x="1229.72" y="565.93" class="lb">Cyanobacteria</text>
<text x="1229.59" y="582.89" class="pi">p</text>
<text x="1245.79" y="582.99" class="lb">=</text>
<text x="1268.59" y="583.89" class="lb">5.34e-4</text>
<line x1="1524.91" y1="547.52" x2="1533.91" y2="547.52" class="tk"/>
<text x="1518.71" y="553.02" class="tl">2.0</text>
<line x1="1524.91" y1="572.1" x2="1533.91" y2="572.1" class="tk"/>
<text x="1518.71" y="577.6" class="tl">1.8</text>
<line x1="1524.91" y1="596.69" x2="1533.91" y2="596.69" class="tk"/>
<text x="1518.71" y="602.19" class="tl">1.6</text>
<line x1="1524.91" y1="621.27" x2="1533.91" y2="621.27" class="tk"/>
<text x="1518.71" y="626.77" class="tl">1.4</text>
<line x1="1524.91" y1="645.85" x2="1533.91" y2="645.85" class="tk"/>
<text x="1518.71" y="651.35" class="tl">1.2</text>
<line x1="1524.91" y1="670.44" x2="1533.91" y2="670.44" class="tk"/>
<text x="1518.71" y="675.94" class="tl">1.0</text>
<line x1="1524.91" y1="695.02" x2="1533.91" y2="695.02" class="tk"/>
<text x="1518.71" y="700.52" class="tl">0.8</text>
<line x1="1524.91" y1="719.6" x2="1533.91" y2="719.6" class="tk"/>
<text x="1518.71" y="725.1" class="tl">0.6</text>
<line x1="1524.91" y1="744.19" x2="1533.91" y2="744.19" class="tk"/>
<text x="1518.71" y="749.69" class="tl">0.4</text>
<text x="1518.71" y="774.27" class="tl">0.2</text>
<line x1="1564.51" y1="768.77" x2="1564.51" y2="759.77" class="tk"/>
<line x1="1644.21" y1="768.77" x2="1644.21" y2="759.77" class="tk"/>
<line x1="1723.91" y1="768.77" x2="1723.91" y2="759.77" class="tk"/>
<path d="M1524.91,547.52V768.77H1764.41" class="sp"/>
<path d="M1564.51,715.76V695.77M1557.71,695.77H1571.31M1564.51,746.08V764.73M1557.71,764.73H1571.31" class="wh"/>
<path d="M1557.51,666.57H1571.51M1564.51,659.57V673.57" class="pl"/>
<rect x="1552.71" y="715.76" width="23.6" height="30.32" fill="#FAB052" class="bx"/>
<line x1="1552.71" y1="734.4" x2="1576.31" y2="734.4" class="md"/>
<polygon points="1564.51,723.46 1565.99,727.42 1570.21,727.61 1566.9,730.24 1568.03,734.32 1564.51,731.98 1560.98,734.32 1562.11,730.24 1558.8,727.61 1563.02,727.42" class="st"/>
<path d="M1644.21,600.31V567.74M1637.41,567.74H1651.01M1644.21,665.89V687.23M1637.41,687.23H1651.01" class="wh"/>
<rect x="1632.41" y="600.31" width="23.6" height="65.59" fill="#8AD8C8" class="bx"/>
<line x1="1632.41" y1="621.42" x2="1656.01" y2="621.42" class="md"/>
<polygon points="1644.21,626.65 1645.69,630.61 1649.91,630.8 1646.6,633.43 1647.73,637.5 1644.21,635.17 1640.68,637.5 1641.81,633.43 1638.5,630.8 1642.72,630.61" class="st"/>
<path d="M1723.91,675.33V614.68M1717.11,614.68H1730.71M1723.91,716.88V747.88M1717.11,747.88H1730.71" class="wh"/>
<path d="M1716.91,602.33H1730.91M1723.91,595.33V609.33" class="pl"/>
<rect x="1712.11" y="675.33" width="23.6" height="41.55" fill="#F87A6B" class="bx"/>
<line x1="1712.11" y1="695.54" x2="1735.71" y2="695.54" class="md"/>
<polygon points="1723.91,683.93 1725.39,687.89 1729.61,688.07 1726.3,690.71 1727.43,694.78 1723.91,692.45 1720.38,694.78 1721.51,690.71 1718.2,688.07 1722.42,687.89" class="st"/>
<text x="1535.46" y="557.4" class="lb">Spirochaetes</text>
<text x="1528.6" y="585.6" class="pi">p</text>
<text x="1544.8" y="585.7" class="lb">=</text>
<text x="1567.6" y="586.6" class="lb">1.73e-8</text>
<line x1="71.41" y1="808.47" x2="80.41" y2="808.47" class="tk"/>
<text x="65.21" y="813.97" class="tl">1.4</text>
<line x1="71.41" y1="840.07" x2="80.41" y2="840.07" class="tk"/>
<text x="65.21" y="845.57" class="tl">1.2</text>
<line x1="71.41" y1="871.67" x2="80.41" y2="871.67" class="tk"/>
<text x="65.21" y="877.17" class="tl">1.0</text>
<line x1="71.41" y1="903.27" x2="80.41" y2="903.27" class="tk"/>
<text x="65.21" y="908.77" class="tl">0.8</text>
<line x1="71.41" y1="934.86" x2="80.41" y2="934.86" class="tk"/>
<text x="65.21" y="940.36" class="tl">0.6</text>
<line x1="71.41" y1="966.46" x2="80.41" y2="966.46" class="tk"/>
<text x="65.21" y="971.96" class="tl">0.4</text>
<line x1="71.41" y1="998.06" x2="80.41" y2="998.06" class="tk"/>
<text x="65.21" y="1003.56" class="tl">0.2</text>
<text x="65.21" y="1035.16" class="tl">0.0</text>
<line x1="111.01" y1="1029.66" x2="111.01" y2="1020.66" class="tk"/>
<line x1="190.71" y1="1029.66" x2="190.71" y2="1020.66" class="tk"/>
<line x1="270.41" y1="1029.66" x2="270.41" y2="1020.66" class="tk"/>
<path d="M71.41,808.47V1029.66H310.91" class="sp"/>
<path d="M111.01,923.67V899.42M104.21,899.42H117.81M111.01,966.33V993.73M104.21,993.73H117.81" class="wh"/>
<rect x="99.21" y="923.67" width="23.6" height="42.66" fill="#FAB052" class="bx"/>
<line x1="99.21" y1="947.25" x2="122.81" y2="947.25" class="md"/>
<polygon points="111.01,941.25 112.49,945.21 116.71,945.39 113.4,948.03 114.53,952.1 111.01,949.77 107.48,952.1 108.61,948.03 105.3,945.39 109.53,945.21" class="st"/>
<path d="M190.71,838.34V811.39M183.91,811.39H197.51M190.71,883.7V913.34M183.91,913.34H197.51" class="wh"/>
<path d="M183.71,962.29H197.71M190.71,955.29V969.29" class="pl"/>
<rect x="178.91" y="838.34" width="23.6" height="45.36" fill="#8AD8C8" class="bx"/>
<line x1="178.91" y1="858.55" x2="202.51" y2="858.55" class="md"/>
<polygon points="190.71,860.41 192.19,864.37 196.41,864.55 193.1,867.19 194.23,871.26 190.71,868.93 187.18,871.26 188.31,867.19 185,864.55 189.23,864.37" class="st"/>
<path d="M270.41,924.12V906.6M263.61,906.6H277.21M270.41,973.07V1008.32M263.61,1008.32H277.21" class="wh"/>
<rect x="258.61" y="924.12" width="23.6" height="48.95" fill="#F87A6B" class="bx"/>
<line x1="258.61" y1="936.47" x2="282.21" y2="936.47" class="md"/>
<polygon points="270.41,941.7 271.89,945.66 276.11,945.84 272.8,948.47 273.93,952.55 270.41,950.22 266.88,952.55 268.01,948.47 264.7,945.84 268.93,945.66" class="st"/>
<text x="116.77" y="989.91" class="lb">Calditrichaeota</text>
<text x="120.01" y="1007.32" class="pi">p</text>
<text x="136.21" y="1007.42" class="lb">=</text>
<text x="159.01" y="1008.32" class="lb">1.62e-8</text>
<line x1="347.83" y1="810.72" x2="356.83" y2="810.72" class="tk"/>
<text x="341.63" y="816.22" class="tl">1.2</text>
<line x1="347.83" y1="847.51" x2="356.83" y2="847.51" class="tk"/>
<text x="341.63" y="853.01" class="tl">1.0</text>
<line x1="347.83" y1="884.3" x2="356.83" y2="884.3" class="tk"/>
<text x="341.63" y="889.8" class="tl">0.8</text>
<line x1="347.83" y1="921.09" x2="356.83" y2="921.09" class="tk"/>
<text x="341.63" y="926.59" class="tl">0.6</text>
<line x1="347.83" y1="957.88" x2="356.83" y2="957.88" class="tk"/>
<text x="341.63" y="963.38" class="tl">0.4</text>
<line x1="347.83" y1="994.66" x2="356.83" y2="994.66" class="tk"/>
<text x="341.63" y="1000.16" class="tl">0.2</text>
<text x="341.63" y="1036.95" class="tl">0.0</text>
<line x1="387.43" y1="1031.45" x2="387.43" y2="1022.45" class="tk"/>
<line x1="467.13" y1="1031.45" x2="467.13" y2="1022.45" class="tk"/>
<line x1="546.83" y1="1031.45" x2="546.83" y2="1022.45" class="tk"/>
<path d="M347.83,810.72V1031.45H587.33" class="sp"/>
<path d="M387.43,959.6V931.3M380.63,931.3H394.23M387.43,994.4V1021.35M380.63,1021.35H394.23" class="wh"/>
<path d="M380.43,847.77H394.43M387.43,840.77V854.77" class="pl"/>
<rect x="375.63" y="959.6" width="23.6" height="34.81" fill="#FAB052" class="bx"/>
<line x1="375.63" y1="981.38" x2="399.23" y2="981.38" class="md"/>
<polygon points="387.43,966.4 388.91,970.36 393.14,970.54 389.83,973.18 390.96,977.25 387.43,974.92 383.9,977.25 385.03,973.18 381.72,970.54 385.95,970.36" class="st"/>
<path d="M467.13,955.56V936.92M460.33,936.92H473.93M467.13,983.18V1006.75M460.33,1006.75H473.93" class="wh"/>
<rect x="455.33" y="955.56" width="23.6" height="27.62" fill="#8AD8C8" class="bx"/>
<line x1="455.33" y1="974.64" x2="478.93" y2="974.64" class="md"/>
<polygon points="467.13,964.15 468.61,968.11 472.84,968.3 469.53,970.93 470.66,975.01 467.13,972.67 463.6,975.01 464.73,970.93 461.42,968.3 465.65,968.11" class="st"/>
<path d="M546.83,1009.22V1001.59M540.03,1001.59H553.63M546.83,1020.68V1025.17M540.03,1025.17H553.63" class="wh"/>
<path d="M539.83,971.72H553.83M546.83,964.72V978.72" class="pl"/>
<path d="M539.83,993.06H553.83M546.83,986.06V1000.06" class="pl"/>
<rect x="535.03" y="1009.22" width="23.6" height="11.45" fill="#F87A6B" class="bx"/>
<line x1="535.03" y1="1015.29" x2="558.63" y2="1015.29" class="md"/>
<polygon points="546.83,1005.24 548.31,1009.21 552.54,1009.39 549.23,1012.02 550.36,1016.1 546.83,1013.76 543.3,1016.1 544.43,1012.02 541.12,1009.39 545.35,1009.21" class="st"/>
<text x="411.15" y="831.38" class="lb">Patescibacteria</text>
<text x="412.6" y="851.26" class="pi">p</text>
<text x="428.8" y="851.36" class="lb">=</text>
<text x="451.6" y="852.26" class="lb">2.41e-4</text>
<line x1="637.61" y1="810.05" x2="646.61" y2="810.05" class="tk"/>
<text x="631.41" y="815.55" class="tl">0.6</text>
<line x1="637.61" y1="854.19" x2="646.61" y2="854.19" class="tk"/>
<text x="631.41" y="859.69" class="tl">0.5</text>
<line x1="637.61" y1="898.34" x2="646.61" y2="898.34" class="tk"/>
<text x="631.41" y="903.84" class="tl">0.4</text>
<line x1="637.61" y1="942.49" x2="646.61" y2="942.49" class="tk"/>
<text x="631.41" y="947.99" class="tl">0.3</text>
<line x1="637.61" y1="986.63" x2="646.61" y2="986.63" class="tk"/>
<text x="631.41" y="992.13" class="tl">0.2</text>
<text x="631.41" y="1036.28" class="tl">0.1</text>
<line x1="677.21" y1="1030.78" x2="677.21" y2="1021.78" class="tk"/>
<line x1="756.91" y1="1030.78" x2="756.91" y2="1021.78" class="tk"/>
<line x1="836.61" y1="1030.78" x2="836.61" y2="1021.78" class="tk"/>
<path d="M637.61,810.05V1030.78H877.11" class="sp"/>
<path d="M677.21,952.19V886.62M670.41,886.62H684.01M677.21,1000.02V1016.18M670.41,1016.18H684.01" class="wh"/>
<path d="M670.21,850.02H684.21M677.21,843.02V857.02" class="pl"/>
<rect x="665.41" y="952.19" width="23.6" height="47.83" fill="#FAB052" class="bx"/>
<line x1="665.41" y1="972.4" x2="689.01" y2="972.4" class="md"/>
<polygon points="677.21,957.86 678.69,961.82 682.91,962.01 679.6,964.64 680.73,968.72 677.21,966.38 673.68,968.72 674.81,964.64 671.5,962.01 675.72,961.82" class="st"/>
<path d="M756.91,851.59V811.17M750.11,811.17H763.71M756.91,904.36V966.78M750.11,966.78H763.71" class="wh"/>
<rect x="745.11" y="851.59" width="23.6" height="52.77" fill="#8AD8C8" class="bx"/>
<line x1="745.11" y1="881.45" x2="768.71" y2="881.45" class="md"/>
<polygon points="756.91,878.15 758.39,882.11 762.61,882.29 759.3,884.93 760.43,889 756.91,886.67 753.38,889 754.51,884.93 751.2,882.29 755.42,882.11" class="st"/>
<path d="M836.61,914.46V882.13M829.81,882.13H843.41M836.61,958.92V1012.14M829.81,1012.14H843.41" class="wh"/>
<rect x="824.81" y="914.46" width="23.6" height="44.46" fill="#F87A6B" class="bx"/>
<line x1="824.81" y1="947.7" x2="848.41" y2="947.7" class="md"/>
<polygon points="836.61,938.33 838.09,942.29 842.31,942.47 839,945.11 840.13,949.18 836.61,946.85 833.08,949.18 834.21,945.11 830.9,942.47 835.12,942.29" class="st"/>
<text x="705.64" y="990.81" class="lb">Zixibacteria</text>
<text x="705.97" y="1008.45" class="pi">p</text>
<text x="722.17" y="1008.55" class="lb">=</text>
<text x="744.97" y="1009.45" class="lb">5.24e-5</text>
<line x1="936.69" y1="809.15" x2="945.69" y2="809.15" class="tk"/>
<text x="930.49" y="814.65" class="tl">0.7</text>
<line x1="936.69" y1="840.74" x2="945.69" y2="840.74" class="tk"/>
<text x="930.49" y="846.24" class="tl">0.6</text>
<line x1="936.69" y1="872.34" x2="945.69" y2="872.34" class="tk"/>
<text x="930.49" y="877.84" class="tl">0.5</text>
<line x1="936.69" y1="903.94" x2="945.69" y2="903.94" class="tk"/>
<text x="930.49" y="909.44" class="tl">0.4</text>
<line x1="936.69" y1="935.54" x2="945.69" y2="935.54" class="tk"/>
<text x="930.49" y="941.04" class="tl">0.3</text>
<line x1="936.69" y1="967.14" x2="945.69" y2="967.14" class="tk"/>
<text x="930.49" y="972.64" class="tl">0.2</text>
<line x1="936.69" y1="998.73" x2="945.69" y2="998.73" class="tk"/>
<text x="930.49" y="1004.23" class="tl">0.1</text>
<text x="930.49" y="1035.83" class="tl">0.0</text>
<line x1="976.29" y1="1030.33" x2="976.29" y2="1021.33" class="tk"/>
<line x1="1055.99" y1="1030.33" x2="1055.99" y2="1021.33" class="tk"/>
<line x1="1135.69" y1="1030.33" x2="1135.69" y2="1021.33" class="tk"/>
<path d="M936.69,809.15V1030.33H1176.19" class="sp"/>
<path d="M976.29,934.22V905.03M969.49,905.03H983.09M976.29,967.91V1010.12M969.49,1010.12H983.09" class="wh"/>
<rect x="964.49" y="934.22" width="23.6" height="33.68" fill="#FAB052" class="bx"/>
<line x1="964.49" y1="951.74" x2="988.09" y2="951.74" class="md"/>
<polygon points="976.29,946.86 977.77,950.82 982,951.01 978.69,953.64 979.82,957.71 976.29,955.38 972.77,957.71 973.9,953.64 970.59,951.01 974.81,950.82" class="st"/>
<path d="M1055.99,882.58V839.91M1049.19,839.91H1062.79M1055.99,942.08V977.56M1049.19,977.56H1062.79" class="wh"/>
<rect x="1044.19" y="882.58" width="23.6" height="59.51" fill="#8AD8C8" class="bx"/>
<line x1="1044.19" y1="904.58" x2="1067.79" y2="904.58" class="md"/>
<polygon points="1055.99,903.52 1057.47,907.48 1061.7,907.67 1058.39,910.3 1059.52,914.38 1055.99,912.04 1052.47,914.38 1053.6,910.3 1050.29,907.67 1054.51,907.48" class="st"/>
<path d="M1135.69,905.7V898.74M1128.89,898.74H1142.49M1135.69,931.3V967.23M1128.89,967.23H1142.49" class="wh"/>
<path d="M1128.69,830.93H1142.69M1135.69,823.93V837.93" class="pl"/>
<path d="M1128.69,999.34H1142.69M1135.69,992.34V1006.34" class="pl"/>
<rect x="1123.89" y="905.7" width="23.6" height="25.6" fill="#F87A6B" class="bx"/>
<line x1="1123.89" y1="918.05" x2="1147.49" y2="918.05" class="md"/>
<polygon points="1135.69,914.3 1137.17,918.26 1141.4,918.45 1138.09,921.08 1139.22,925.15 1135.69,922.82 1132.17,925.15 1133.3,921.08 1129.99,918.45 1134.21,918.26" class="st"/>
<text x="1002.94" y="997.1" class="lb">Nitrospinae</text>
<text x="1002.36" y="1015.18" class="pi">p</text>
<text x="1018.56" y="1015.28" class="lb">=</text>
<text x="1041.36" y="1016.18" class="lb">2.65e-3</text>
<text x="92.6" y="1064.8" class="xl">SSu</text>
<text x="169.3" y="1064.8" class="xl">DSu</text>
<text x="245.6" y="1064.8" class="xl">MSu</text>
<text x="372.5" y="1064.5" class="xl">SSu</text>
<text x="449.7" y="1064.5" class="xl">DSu</text>
<text x="525.9" y="1064.5" class="xl">MSu</text>
<text x="662.6" y="1065" class="xl">SSu</text>
<text x="739.5" y="1065" class="xl">DSu</text>
<text x="815.7" y="1065" class="xl">MSu</text>
<text x="960.6" y="1065" class="xl">SSu</text>
<text x="1037.9" y="1065" class="xl">DSu</text>
<text x="1114" y="1065" class="xl">MSu</text>
<text x="1255.2" y="804.5" class="xl">SSu</text>
<text x="1332" y="804.5" class="xl">DSu</text>
<text x="1408.2" y="804.5" class="xl">MSu</text>
<text x="1553.2" y="804.5" class="xl">SSu</text>
<text x="1630" y="804.5" class="xl">DSu</text>
<text x="1706.2" y="804.5" class="xl">MSu</text>
<text x="890" y="1101.7" class="gr">Groups</text>
<text transform="translate(21.2,506.1) rotate(-90)" text-anchor="middle" class="yl">Proportion of sequences (%)</text>
</svg></body></html>
